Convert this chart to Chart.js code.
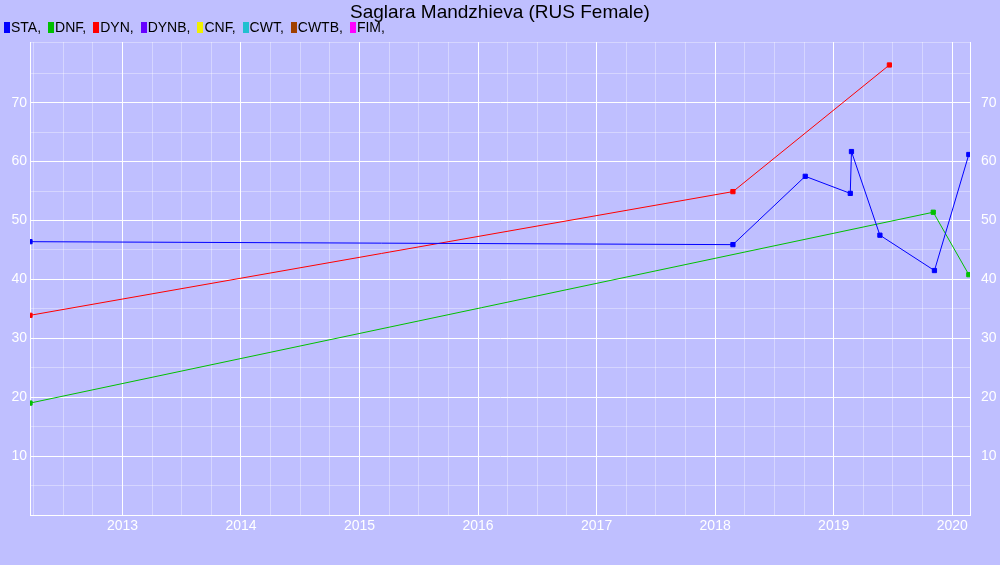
<!DOCTYPE html>
<html><head><meta charset="utf-8">
<script src="https://cdn.jsdelivr.net/npm/chart.js@4"></script>
<style>
body{margin:0;background:#bfbfff;font-family:"Liberation Sans",Arial,sans-serif;}
#wrap{position:relative;width:1000px;height:565px;}
#title{position:absolute;top:1px;left:0;width:1000px;text-align:center;font-size:19px;color:#000;}
#legend{position:absolute;top:19px;left:4px;font-size:14px;color:#000;}
#legend span.sw{display:inline-block;width:6px;height:11px;margin-right:1px;vertical-align:-1px;}
#legend span.it{margin-right:7px;}
canvas{position:absolute;top:0;left:0;}
</style></head>
<body><div id="wrap">
<canvas id="c" width="1000" height="565"></canvas>
<div id="title">Saglara Mandzhieva (RUS Female)</div>
<div id="legend"></div>
</div>
<script>
const legendNames = ['STA', 'DNF', 'DYN', 'DYNB', 'CNF', 'CWT', 'CWTB', 'FIM'];
const legendColors = ['#0000ff', '#00c000', '#ff0000', '#6600ff', '#f0f000', '#20c0d0', '#a04000', '#ff00ff'];

const staX = [2012.22, 2018.15, 2018.76, 2019.14, 2019.15, 2019.39, 2019.85, 2020.14];
const staY = [46.4, 45.9, 57.5, 54.6, 61.7, 47.5, 41.5, 61.2];
const dnfX = [2012.22, 2019.84, 2020.14];
const dnfY = [19.0, 51.4, 40.8];
const dynX = [2012.22, 2018.15, 2019.47];
const dynY = [33.9, 54.9, 76.4];

const legend = document.getElementById('legend');
legendNames.forEach((n, i) => {
    legend.innerHTML += `<span class="it"><span class="sw" style="background:${legendColors[i]}"></span>${n},</span>`;
});

const pts = (xs, ys) => xs.map((x, i) => ({ x: x, y: ys[i] }));
const ds = (label, xs, ys, color) => ({
    label, data: pts(xs, ys), borderColor: color, backgroundColor: color,
    borderWidth: 1, pointStyle: 'rect', pointRadius: 3, tension: 0
});

const gridCol = (v, step) => (Math.abs(v / step - Math.round(v / step)) < 1e-6 ? '#ffffff' : 'rgba(255,255,255,0.35)');
const yTicks = {
    stepSize: 5, color: '#ffffff', font: { size: 14, family: 'Liberation Sans' },
    callback: v => (v % 10 === 0 && v > 0 && v < 80) ? v : ''
};

new Chart(document.getElementById('c'), {
    type: 'line',
    data: { datasets: [ds('STA', staX, staY, '#0000ff'), ds('DNF', dnfX, dnfY, '#00c000'), ds('DYN', dynX, dynY, '#ff0000')] },
    options: {
        responsive: false, animation: false,
        layout: { padding: { top: 42, left: 0, right: 0, bottom: 0 } },
        plugins: { legend: { display: false }, tooltip: { enabled: false } },
        scales: {
            x: {
                type: 'linear', min: 2012.22, max: 2020.15,
                afterBuildTicks: a => { const t = []; for (let v = 2012.25; v <= 2020.15; v += 0.25) t.push({ value: +v.toFixed(2) }); a.ticks = t; },
                ticks: { color: '#ffffff', font: { size: 14, family: 'Liberation Sans' }, maxRotation: 0, autoSkip: false,
                    callback: v => Number.isInteger(v) ? v : '' },
                grid: { color: c => gridCol(c.tick ? c.tick.value : 0, 1), drawTicks: false },
                border: { color: '#ffffff' },
                afterFit: a => { a.height = 50; }
            },
            y: {
                position: 'left', min: 0, max: 80.3, ticks: yTicks,
                grid: { color: c => gridCol(c.tick ? c.tick.value : 0, 10), drawTicks: false },
                border: { color: '#ffffff' },
                afterFit: a => { a.width = 30; }
            },
            y2: {
                position: 'right', min: 0, max: 80.3, ticks: yTicks,
                grid: { display: false }, border: { color: '#ffffff' },
                afterFit: a => { a.width = 30; }
            }
        }
    }
});
</script>
</body></html>
